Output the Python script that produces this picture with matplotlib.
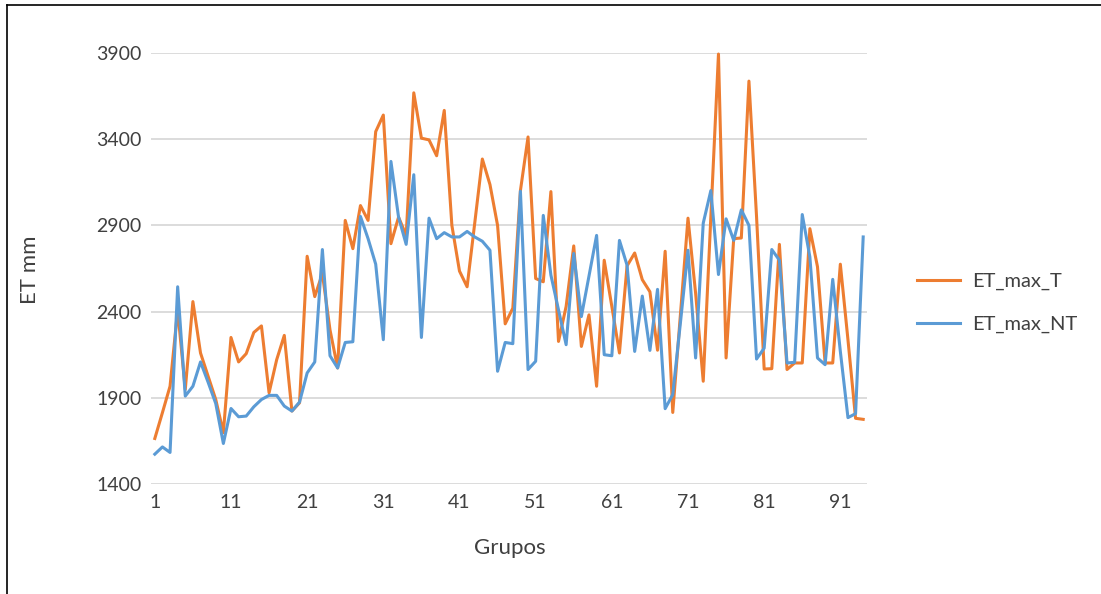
import matplotlib.pyplot as plt
from matplotlib.lines import Line2D
import numpy as np

plt.rcParams['font.family'] = ['Lato', 'DejaVu Sans']

# values
grupos = list(range(1, 95))
et_max_t = [1664, 1814, 1967, 2410, 1948, 2458, 2160, 2025, 1890, 1698,
            2250, 2108, 2156, 2279, 2317, 1929, 2121, 2262, 1823, 1871,
            2721, 2487, 2621, 2294, 2073, 2929, 2765, 3015, 2929, 3444,
            3540, 2794, 2948, 2842, 3669, 3406, 3396, 3304, 3567, 2900,
            2635, 2544, 2913, 3285, 3137, 2900, 2329, 2420, 3102, 3413,
            2592, 2573, 3096, 2227, 2430, 2781, 2198, 2381, 1967, 2698,
            2430, 2160, 2665, 2740, 2585, 2515, 2176, 2750, 1815, 2380,
            2942, 2506, 1996, 2950, 3894, 2131, 2823, 2827, 3737, 2950,
            2067, 2069, 2790, 2064, 2102, 2102, 2881, 2660, 2102, 2102,
            2675, 2237, 1781, 1775]
et_max_nt = [1573, 1615, 1583, 2544, 1910, 1967, 2108, 1990, 1867, 1635,
             1838, 1790, 1794, 1848, 1890, 1914, 1914, 1852, 1823, 1875,
             2044, 2108, 2760, 2144, 2073, 2221, 2225, 2952, 2823, 2675,
             2237, 3271, 2948, 2790, 3194, 2250, 2942, 2823, 2858, 2833,
             2833, 2865, 2833, 2808, 2756, 2054, 2221, 2214, 3098, 2064,
             2112, 2958, 2612, 2410, 2208, 2737, 2371, 2606, 2842, 2150,
             2144, 2813, 2669, 2169, 2490, 2175, 2529, 1837, 1919, 2333,
             2756, 2131, 2913, 3102, 2615, 2938, 2813, 2990, 2900, 2125,
             2188, 2760, 2698, 2102, 2106, 2963, 2717, 2131, 2092, 2587,
             2169, 1785, 1808, 2833]
xticks = list(range(1, 95, 10))
yticks = [1400, 1900, 2400, 2900, 3400, 3900]

W, H = 1101, 594
fig = plt.figure(figsize=(W / 100, H / 100), dpi=100)
ax = fig.add_axes([151 / W, 1 - 484 / H, (867 - 151) / W, (484 - 53) / H])

ax.plot(grupos, et_max_t, color='#ED7D31', lw=2.2, label='ET_max_T',
        clip_on=False, solid_joinstyle='round', zorder=3)
ax.plot(grupos, et_max_nt, color='#5B9BD5', lw=2.2, label='ET_max_NT',
        clip_on=False, solid_joinstyle='round', zorder=3)

ax.set_xlim(0.5, 94.5)
ax.set_ylim(1400, 3900)
ax.set_xticks(xticks)
ax.set_yticks(yticks)
ax.tick_params(length=0, labelsize=14, colors='#404040', pad=7)
ax.grid(axis='y', color='#d9d9d9', lw=1.3)
ax.set_axisbelow(True)
for s in ax.spines.values():
    s.set_visible(False)

ax.set_xlabel('Grupos', fontsize=16, color='#404040', va='center')
ax.set_ylabel('ET mm', fontsize=16, color='#404040', va='center')
ax.xaxis.set_label_coords(0.501, -0.148)
ax.yaxis.set_label_coords(-0.169, 0.497)

ax.legend(loc='center left', bbox_to_anchor=(1.045, 0.42), frameon=False,
          fontsize=14.5, handlelength=2.1, handletextpad=0.6,
          labelspacing=1.25, labelcolor='#404040')

# outer frame (left and top edges visible)
fig.add_artist(Line2D([7 / W, 7 / W], [0, 1 - 5 / H], color='black', lw=1.2))
fig.add_artist(Line2D([7 / W, 1], [1 - 5 / H, 1 - 5 / H], color='black', lw=1.2))

fig.savefig('out.png', dpi=100)
